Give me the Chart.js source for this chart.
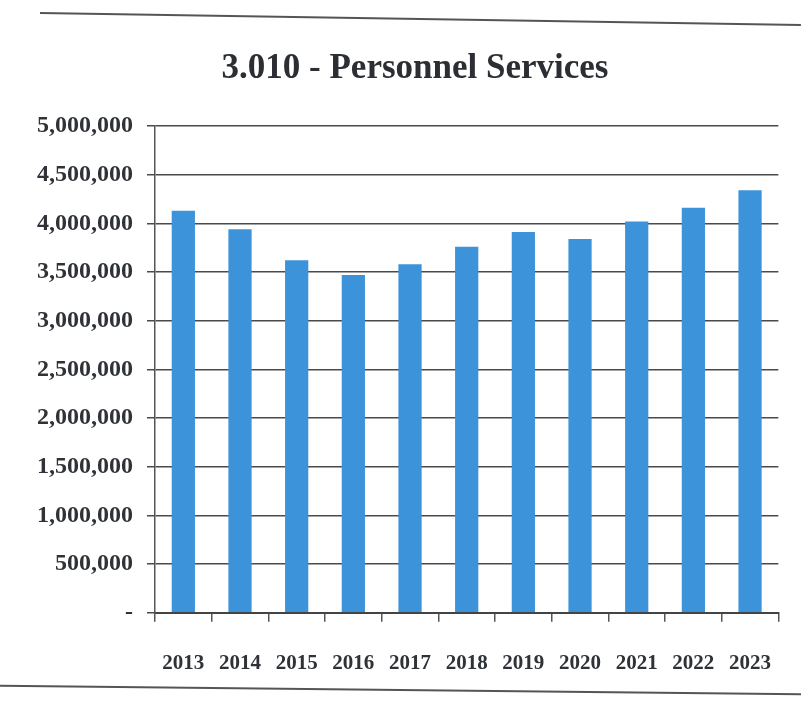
<!DOCTYPE html>
<html>
<head>
<meta charset="utf-8">
<script src="https://cdn.jsdelivr.net/npm/chart.js@4.4.1/dist/chart.umd.min.js"></script>
<style>
  html, body { margin: 0; padding: 0; background: #fff; }
  #wrap { position: relative; width: 801px; height: 705px; }
  #topline { position: absolute; left: 40px; top: 12px; width: 761px; height: 2px; background: #555; transform: rotate(0.9deg); transform-origin: left center; }
  #botline { position: absolute; left: 0; top: 689px; width: 801px; height: 2px; background: #555; transform: rotate(0.6deg); }
  #title { position: absolute; left: 30px; width: 770px; top: 46px; text-align: center; font-family: 'Liberation Serif', 'DejaVu Serif', serif; font-weight: bold; font-size: 35px; line-height: 42px; color: #2b2e33; }
  canvas { position: absolute; left: 0; top: 0; }
</style>
</head>
<body>
<div id="wrap">
  <canvas id="c" width="801" height="705"></canvas>
  <div id="title"></div>
  <div id="topline"></div>
  <div id="botline"></div>
</div>
<script>
const title = '3.010 - Personnel Services';
const years = ['2013','2014','2015','2016','2017','2018','2019','2020','2021','2022','2023'];
const personnelServices = [4130000, 3940000, 3620000, 3470000, 3580000, 3760000, 3910000, 3840000, 4020000, 4160000, 4340000];
const yMin = 0, yMax = 5000000, yStep = 500000;

document.getElementById('title').textContent = title;

Chart.defaults.font.family = "'Liberation Serif', 'DejaVu Serif', serif";
Chart.defaults.color = '#2f3236';

new Chart(document.getElementById('c'), {
  type: 'bar',
  data: {
    labels: years,
    datasets: [{
      label: title,
      data: personnelServices,
      backgroundColor: '#3d93da',
      borderWidth: 0,
      categoryPercentage: 1.0,
      barPercentage: 0.41
    }]
  },
  options: {
    responsive: false,
    animation: false,
    layout: { padding: { left: 0, right: 21, top: 126, bottom: 0 } },
    plugins: {
      legend: { display: false },
      tooltip: { enabled: false },
      title: { display: false }
    },
    scales: {
      x: {
        grid: { display: true, offset: true, drawOnChartArea: false, drawTicks: true, tickLength: 9, color: '#555', lineWidth: 1.5 },
        border: { display: true, color: '#444', width: 2 },
        ticks: { padding: 29, font: { size: 21, weight: 'bold' }, color: '#2f3236', maxRotation: 0 }
      },
      y: {
        min: yMin, max: yMax,
        afterFit: (s) => { s.width = 155; },
        grid: { color: '#4a4a4a', lineWidth: 1.5, tickLength: 8 },
        border: { display: true, color: '#555', width: 1.5 },
        ticks: {
          stepSize: yStep,
          padding: 14,
          font: { size: 24, weight: 'bold' },
          color: '#2f3236',
          callback: (v) => v === 0 ? '-' : v.toLocaleString('en-US')
        }
      }
    }
  }
});
</script>
</body>
</html>
